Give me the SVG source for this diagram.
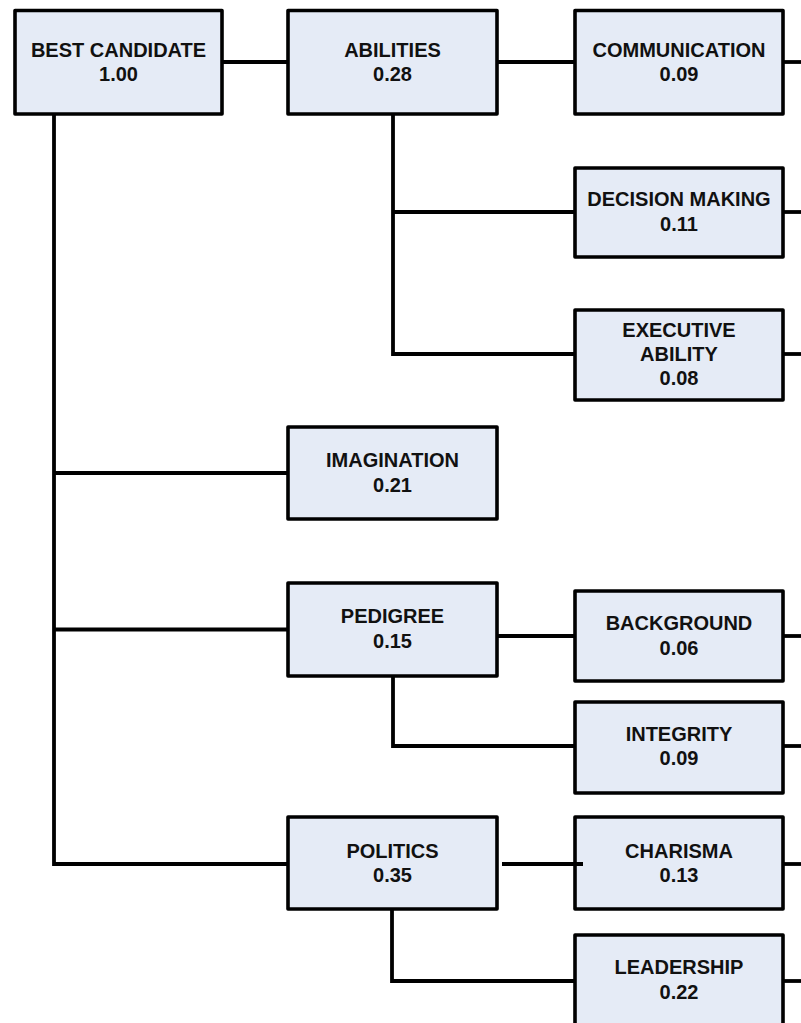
<svg xmlns="http://www.w3.org/2000/svg" width="801" height="1023" viewBox="0 0 801 1023">
<style>
.box{fill:#E5EBF6;stroke:#000;stroke-width:3.6;stroke-linejoin:round}
.t{font-family:"Liberation Sans",Arial,sans-serif;font-weight:bold;font-size:20px;fill:#111;text-anchor:middle}
.c{fill:none;stroke:#000;stroke-width:3.8;stroke-linejoin:miter}
</style>
<rect width="801" height="1023" fill="#fff"/>
<g id="nodes">
<g id="best"><rect class="box" x="15" y="10.5" width="207" height="103.5"/><text class="t" x="118.5" y="56.5">BEST CANDIDATE</text><text class="t" x="118.5" y="80.5">1.00</text></g>
<g id="abilities"><rect class="box" x="288" y="10.5" width="209" height="103.5"/><text class="t" x="392.5" y="56.5">ABILITIES</text><text class="t" x="392.5" y="80.5">0.28</text></g>
<g id="communication"><rect class="box" x="575" y="10.5" width="208" height="103.5"/><text class="t" x="679" y="56.5">COMMUNICATION</text><text class="t" x="679" y="80.5">0.09</text></g>
<g id="decision"><rect class="box" x="575" y="168" width="208" height="89"/><text class="t" x="679" y="206">DECISION MAKING</text><text class="t" x="679" y="231">0.11</text></g>
<g id="executive"><rect class="box" x="575" y="310" width="208" height="90"/><text class="t" x="679" y="337">EXECUTIVE</text><text class="t" x="679" y="361">ABILITY</text><text class="t" x="679" y="385">0.08</text></g>
<g id="imagination"><rect class="box" x="288" y="427" width="209" height="92"/><text class="t" x="392.5" y="467">IMAGINATION</text><text class="t" x="392.5" y="492">0.21</text></g>
<g id="pedigree"><rect class="box" x="288" y="583" width="209" height="93"/><text class="t" x="392.5" y="623">PEDIGREE</text><text class="t" x="392.5" y="648">0.15</text></g>
<g id="background"><rect class="box" x="575" y="591" width="208" height="90"/><text class="t" x="679" y="630">BACKGROUND</text><text class="t" x="679" y="655">0.06</text></g>
<g id="integrity"><rect class="box" x="575" y="702" width="208" height="91"/><text class="t" x="679" y="741">INTEGRITY</text><text class="t" x="679" y="765">0.09</text></g>
<g id="politics"><rect class="box" x="288" y="817" width="209" height="92"/><text class="t" x="392.5" y="858">POLITICS</text><text class="t" x="392.5" y="882">0.35</text></g>
<g id="charisma"><rect class="box" x="575" y="817" width="208" height="92"/><text class="t" x="679" y="858">CHARISMA</text><text class="t" x="679" y="882">0.13</text></g>
<g id="leadership"><rect class="box" x="575" y="935" width="208" height="92"/><text class="t" x="679" y="974">LEADERSHIP</text><text class="t" x="679" y="999">0.22</text></g>
</g>
<g id="connectors">
<line class="c" x1="222" y1="62" x2="288" y2="62"/>
<line class="c" x1="497" y1="62" x2="575" y2="62"/>
<polyline class="c" points="54,114 54,864 288,864"/>
<line class="c" x1="54" y1="473" x2="288" y2="473"/>
<line class="c" x1="54" y1="629.5" x2="288" y2="629.5"/>
<polyline class="c" points="393,114 393,354 575,354"/>
<line class="c" x1="393" y1="212" x2="575" y2="212"/>
<line class="c" x1="497" y1="636" x2="575" y2="636"/>
<polyline class="c" points="393,676 393,746 575,746"/>
<line class="c" x1="502" y1="864" x2="583" y2="864"/>
<polyline class="c" points="392,909 392,981 575,981"/>
<line class="c" x1="783" y1="62" x2="801" y2="62"/>
<line class="c" x1="783" y1="212" x2="801" y2="212"/>
<line class="c" x1="783" y1="354" x2="801" y2="354"/>
<line class="c" x1="783" y1="636" x2="801" y2="636"/>
<line class="c" x1="783" y1="746" x2="801" y2="746"/>
<line class="c" x1="783" y1="864" x2="801" y2="864"/>
<line class="c" x1="783" y1="981" x2="801" y2="981"/>
</g>
</svg>
